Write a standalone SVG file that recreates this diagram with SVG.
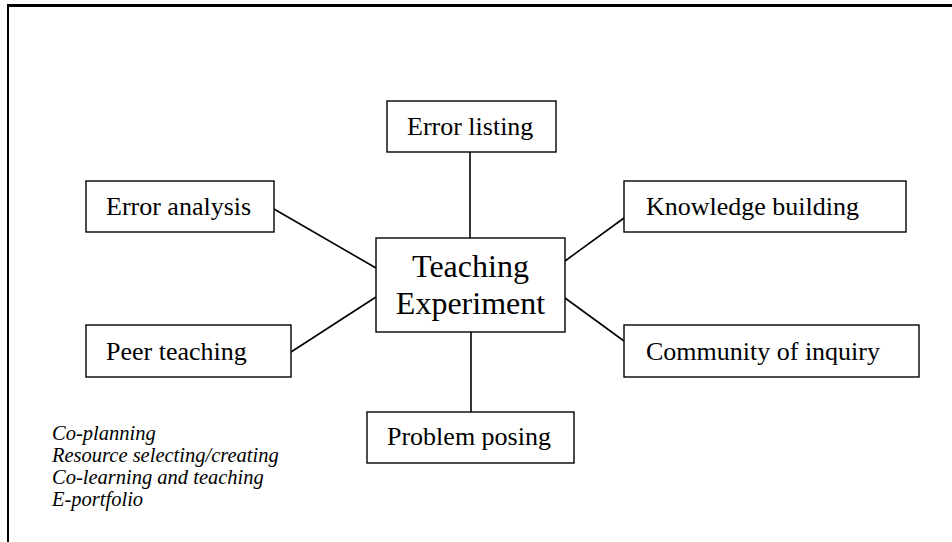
<svg xmlns="http://www.w3.org/2000/svg" width="952" height="542" viewBox="0 0 952 542">
  <style>
    .box { fill: #fff; stroke: #000; stroke-width: 1.4; }
    .serif { font-family: 'Liberation Serif', 'Times New Roman', 'DejaVu Serif', serif; fill: #000; }
    .lbl { font-size: 26px; }
    .hub { font-size: 32px; text-anchor: middle; }
    .note { font-size: 20.5px; font-style: italic; }
    .link { stroke: #000; stroke-width: 1.6; fill: none; }
    .frame { stroke: #000; fill: none; }
  </style>
  <rect width="952" height="542" fill="#fff"/>

  <!-- page frame: top and left edges -->
  <line class="frame" x1="7" y1="5.5" x2="952" y2="5.5" stroke-width="3"/>
  <line class="frame" x1="8" y1="4" x2="8" y2="542" stroke-width="2"/>

  <g id="connectors">
    <line class="link" x1="470" y1="152" x2="470" y2="238"/>
    <line class="link" x1="274" y1="209" x2="376" y2="268"/>
    <line class="link" x1="291" y1="352" x2="376" y2="297"/>
    <line class="link" x1="565" y1="261" x2="624" y2="218"/>
    <line class="link" x1="565" y1="298" x2="624" y2="341"/>
    <line class="link" x1="471" y1="332" x2="471" y2="412"/>
  </g>

  <g id="teaching-experiment">
    <rect class="box" x="376" y="238" width="189" height="94"/>
    <text class="serif hub" x="470.5" y="277">Teaching</text>
    <text class="serif hub" x="470.5" y="314">Experiment</text>
  </g>

  <g id="error-listing">
    <rect class="box" x="387" y="101" width="169" height="51"/>
    <text class="serif lbl" x="407" y="135">Error listing</text>
  </g>

  <g id="error-analysis">
    <rect class="box" x="86" y="181" width="188" height="51"/>
    <text class="serif lbl" x="106" y="215">Error analysis</text>
  </g>

  <g id="knowledge-building">
    <rect class="box" x="624" y="181" width="282" height="51"/>
    <text class="serif lbl" x="646" y="215">Knowledge building</text>
  </g>

  <g id="peer-teaching">
    <rect class="box" x="86" y="325" width="205" height="52"/>
    <text class="serif lbl" x="106" y="360">Peer teaching</text>
  </g>

  <g id="community-of-inquiry">
    <rect class="box" x="624" y="325" width="295" height="52"/>
    <text class="serif lbl" x="646" y="360">Community of inquiry</text>
  </g>

  <g id="problem-posing">
    <rect class="box" x="367" y="412" width="207" height="51"/>
    <text class="serif lbl" x="387" y="445">Problem posing</text>
  </g>

  <g id="activities">
    <text class="serif note" x="52" y="440">Co-planning</text>
    <text class="serif note" x="52" y="462">Resource selecting/creating</text>
    <text class="serif note" x="52" y="484">Co-learning and teaching</text>
    <text class="serif note" x="52" y="506">E-portfolio</text>
  </g>
</svg>
